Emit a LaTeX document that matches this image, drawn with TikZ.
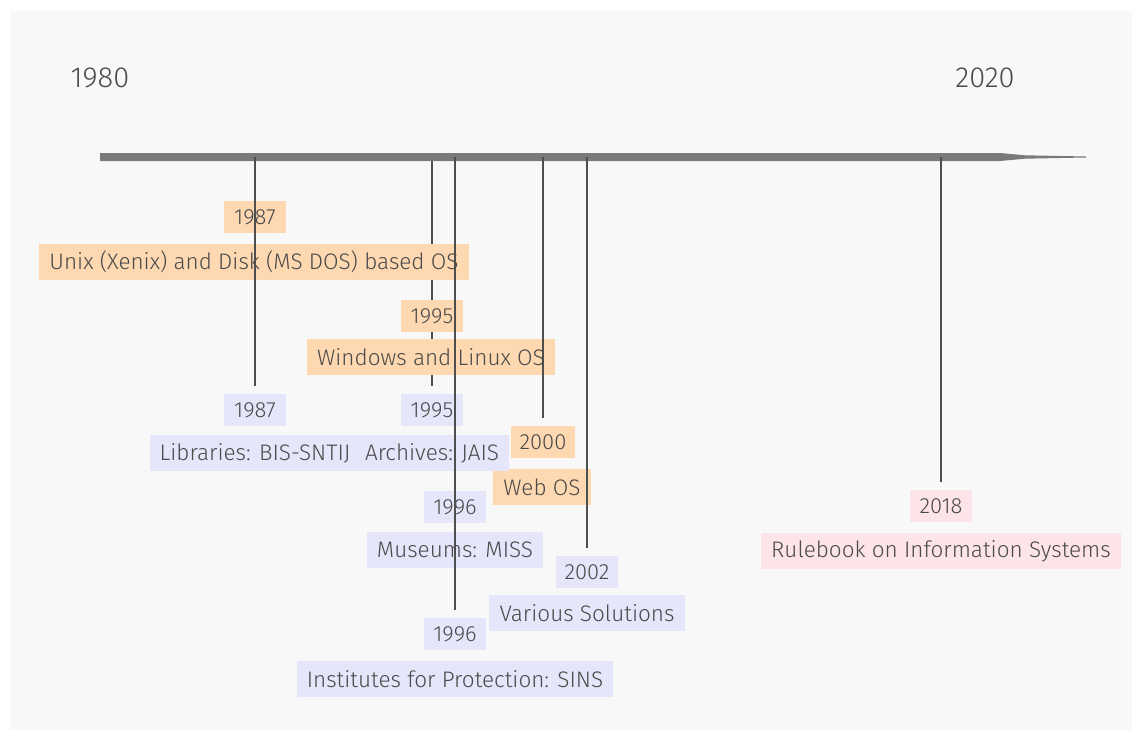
\documentclass[tikz,border=0pt]{standalone}
\usepackage{fontspec}
\setmainfont{Fira Sans Light}
\usetikzlibrary{positioning}
\pgfdeclarelayer{bg}
\pgfdeclarelayer{back}
\pgfsetlayers{bg,back,main}
\definecolor{bgcol}{HTML}{F8F8F8}
\definecolor{barcol}{HTML}{7A7A7A}
\definecolor{stemcol}{HTML}{4E4E4E}
\definecolor{txtcol}{HTML}{4A4A4A}
\definecolor{osfill}{HTML}{FDD8B0}
\definecolor{instfill}{HTML}{E6E6FA}
\definecolor{lawfill}{HTML}{FCE4E8}
\tikzset{
  yearbox/.style={fill=#1, text=txtcol, minimum height=18.7pt, minimum width=35.7pt,
    inner xsep=5pt, inner ysep=0pt, font=\fontsize{12.5}{14}\selectfont},
  eventbox/.style={fill=#1, text=txtcol, minimum height=21pt,
    inner xsep=5.7pt, inner ysep=0pt, font=\fontsize{12.8}{14}\selectfont},
  endyear/.style={text=txtcol, font=\fontsize{16.5}{18}\selectfont},
  stem/.style={draw=stemcol, line width=1.1pt, shorten >=4pt}
}
\begin{document}
\begin{tikzpicture}[x=0.02cm,y=-0.02cm]
\useasboundingbox (0,0) rectangle (1142,740);
\begin{pgfonlayer}{bg}
\fill[white] (0,0) rectangle (1142,740);
\fill[bgcol] (10,11) rectangle (1132,730);
\end{pgfonlayer}
% axis
\node[endyear] (y1980)at(100,78){1980};
\node[endyear] (y2020)at(985,78){2020};
\fill[barcol] (100,153) -- (1000,153) -- (1025,155.3) -- (1086,156.5) -- (1086,157.5) -- (1025,158.7) -- (1000,161) -- (100,161) -- cycle;
\coordinate (t1987)at(255,157);
\coordinate (t1995)at(432,157);
\coordinate (t1996)at(455,157);
\coordinate (t2000)at(543,157);
\coordinate (t2002)at(587,157);
\coordinate (t2018)at(941,157);
% operating systems
\node[yearbox=osfill] (o1987)at(255,217){1987};
\node[eventbox=osfill] (unix)at(254,262){Unix (Xenix) and Disk (MS DOS) based OS};
\node[yearbox=osfill] (o1995)at(432,316){1995};
\node[eventbox=osfill] (win)at(431,357){Windows and Linux OS};
\node[yearbox=osfill] (o2000)at(543,442){2000};
\node[eventbox=osfill] (webos)at(542,487){Web OS};
% institutions
\node[yearbox=instfill] (b1987)at(255,410){1987};
\node[yearbox=instfill] (b1995)at(432,410){1995};
\node[eventbox=instfill] (lib)at(255,453){Libraries: BIS-SNTIJ};
\node[eventbox=instfill] (arc)at(432,453){Archives: JAIS};
\node[yearbox=instfill] (b1996a)at(455,507){1996};
\node[eventbox=instfill] (mus)at(455,550){Museums: MISS};
\node[yearbox=instfill] (b2002)at(587,572){2002};
\node[eventbox=instfill] (various)at(587,613){Various Solutions};
\node[yearbox=instfill] (b1996b)at(455,634){1996};
\node[eventbox=instfill] (inst)at(455,679){Institutes for Protection: SINS};
% regulation
\node[yearbox=lawfill] (p2018)at(941,506){2018};
\node[eventbox=lawfill] (rule)at(941,551){Rulebook on Information Systems};
% stems
\begin{pgfonlayer}{back}
\draw[stem] (t1995) -- (b1995.north);
\end{pgfonlayer}
\draw[stem] (t1987) -- (b1987.north);
\draw[stem] (t1996) -- (b1996b.north);
\draw[stem] (t2000) -- (o2000.north);
\draw[stem] (t2002) -- (b2002.north);
\draw[stem] (t2018) -- (p2018.north);
\end{tikzpicture}
\end{document}
